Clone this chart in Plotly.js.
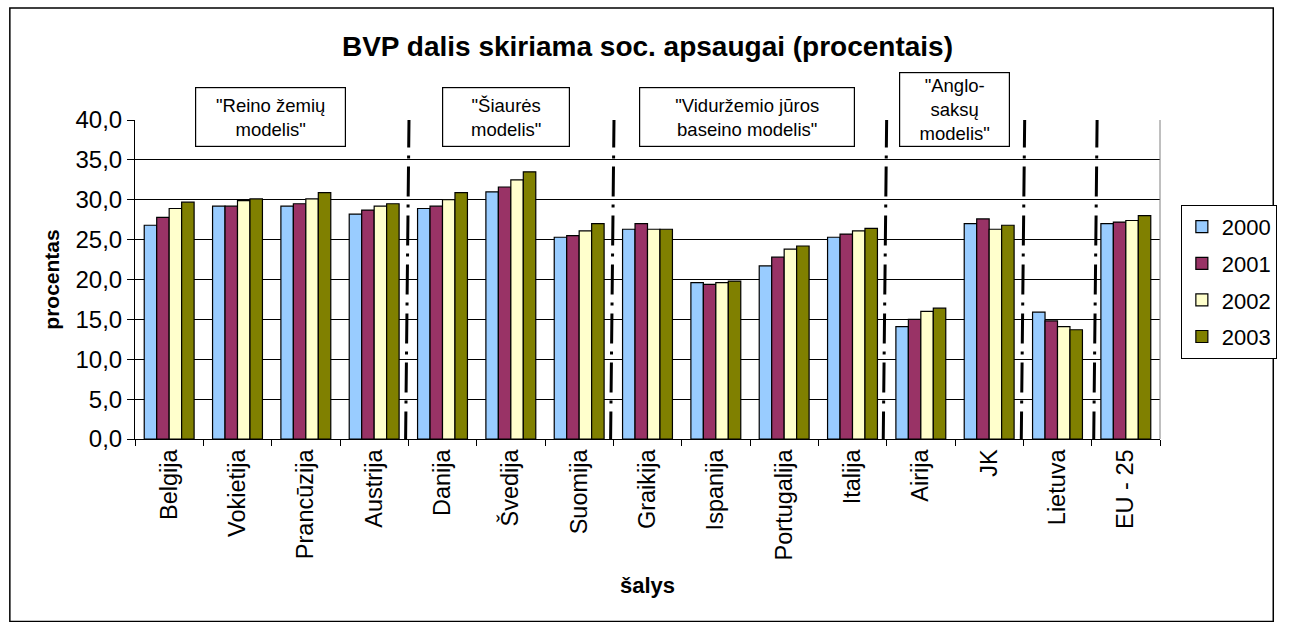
<!DOCTYPE html>
<html>
<head>
<meta charset="utf-8">
<script src="https://cdn.plot.ly/plotly-3.0.1.min.js"></script>
<style>
  html, body { margin: 0; padding: 0; background: #fff; }
  #chart { width: 1289px; height: 622px; }
</style>
</head>
<body>
<div id="chart"></div>
<script>
// ---- data ----
const countries = ["Belgija", "Vokietija", "Prancūzija", "Austrija", "Danija", "Švedija", "Suomija",
                   "Graikija", "Ispanija", "Portugalija", "Italija", "Airija", "JK", "Lietuva", "EU - 25"];
const years = ["2000", "2001", "2002", "2003"];
const v2000 = [26.8, 29.2, 29.2, 28.2, 28.9, 31.0, 25.3, 26.3, 19.6, 21.7, 25.3, 14.1, 27.0, 15.9, 27.0];
const v2001 = [27.8, 29.2, 29.5, 28.7, 29.2, 31.6, 25.5, 27.0, 19.4, 22.8, 25.7, 15.0, 27.6, 14.8, 27.2];
const v2002 = [28.9, 29.9, 30.1, 29.2, 30.0, 32.5, 26.1, 26.3, 19.6, 23.8, 26.1, 16.0, 26.3, 14.1, 27.4];
const v2003 = [29.7, 30.1, 30.9, 29.5, 30.9, 33.5, 27.0, 26.3, 19.8, 24.2, 26.4, 16.4, 26.8, 13.7, 28.0];
const seriesValues = [v2000, v2001, v2002, v2003];
const colors = ["#99CCFF", "#993366", "#FFFFCC", "#808000"];
const groupLabels = ["\"Reino žemių<br>modelis\"", "\"Šiaurės<br>modelis\"",
                     "\"Viduržemio jūros<br>baseino modelis\"", "\"Anglo-<br>saksų<br>modelis\""];

const FONT = "Arial, 'Liberation Sans', sans-serif";

const traces = years.map((y, i) => ({
  type: "bar",
  name: y,
  x: countries,
  y: seriesValues[i],
  legendgroup: y,
  marker: { color: colors[i], line: { color: "#000", width: 1.2 } },
  hoverinfo: "x+y+name"
}));

// dash-dot separators between model groups (category boundaries)
const sepX = [3.51, 6.51, 10.5, 12.52, 13.58];
const shapes = sepX.map(x => ({
  type: "line", xref: "x", yref: "y",
  x0: x, x1: x - 0.05, y0: 40.3, y1: 0,
  line: { color: "#000", width: 3, dash: "30px,8px,3px,8px" }
}));
// right edge of plot area
shapes.push({ type: "line", xref: "paper", yref: "paper", x0: 1, x1: 1, y0: 0, y1: 1,
              line: { color: "#808080", width: 1 } });
// outer chart border
shapes.push({ type: "rect", xref: "paper", yref: "paper",
              x0: -0.1221, x1: 1.1105, y0: -0.572, y1: 1.351,
              line: { color: "#000", width: 1.5 }, fillcolor: "rgba(0,0,0,0)", layer: "below" });

// model annotation boxes: [center x px, center y px, width, height]
const boxPos = [[271.5, 117, 151, 60], [509, 117, 128, 60], [751, 117, 216, 60], [960.5, 109.5, 111, 75]];
const L = 135, R = 1167, T = 120, B = 439.3;
const annotations = groupLabels.map((t, i) => {
  const [cx, cy, w, h] = boxPos[i];
  return {
    xref: "paper", yref: "paper",
    x: (cx - L) / (R - L), y: (B - cy) / (B - T),
    xanchor: "center", yanchor: "middle",
    text: t, showarrow: false,
    font: { family: FONT, size: 18.5, color: "#000" },
    bgcolor: "#fff", bordercolor: "#000", borderwidth: 1.2, borderpad: 0,
    width: w - 2, height: h - 2, align: "center", valign: "middle"
  };
});

const layout = {
  width: 1289, height: 622,
  margin: { l: L, r: 1289 - R, t: T, b: 622 - B, pad: 0 },
  paper_bgcolor: "#fff", plot_bgcolor: "#fff",
  font: { family: FONT, color: "#000" },
  separators: ", ",
  title: {
    text: "<b>BVP dalis skiriama soc. apsaugai (procentais)</b>",
    font: { family: FONT, size: 28, color: "#000" },
    x: 0.5, xref: "paper", xanchor: "center",
    y: 1 - 46 / 622, yref: "container", yanchor: "middle"
  },
  barmode: "group", bargap: 0.27, bargroupgap: 0,
  xaxis: {
    type: "category",
    tickangle: -90,
    tickson: "boundaries",
    ticks: "outside", ticklen: 6, tickcolor: "#000", tickwidth: 1,
    showline: true, linecolor: "#000", linewidth: 1,
    showgrid: false, zeroline: false,
    tickfont: { family: FONT, size: 23.5, color: "#000" },
    title: { text: "<b>šalys</b>", font: { family: FONT, size: 22, color: "#000" }, standoff: 18 },
    automargin: false
  },
  yaxis: {
    range: [0, 40], dtick: 5, tickformat: ".1f",
    ticks: "outside", ticklen: 7, tickcolor: "#000", tickwidth: 1,
    showline: true, linecolor: "#000", linewidth: 1,
    showgrid: true, gridcolor: "#000", gridwidth: 1,
    zeroline: false,
    tickfont: { family: FONT, size: 24, color: "#000" },
    title: { text: "<b>procentas</b>", font: { family: FONT, size: 21, color: "#000" }, standoff: 10 },
    automargin: false
  },
  legend: {
    x: (1188 - L) / (R - L), y: (B - 205) / (B - T),
    xanchor: "left", yanchor: "top",
    bordercolor: "#000", borderwidth: 1, bgcolor: "#fff",
    font: { family: FONT, size: 22, color: "#000" },
    traceorder: "grouped", tracegroupgap: 5, itemwidth: 30
  },
  shapes: shapes,
  annotations: annotations,
  showlegend: true
};

Plotly.newPlot("chart", traces, layout, { displayModeBar: false, responsive: false });
</script>
</body>
</html>
